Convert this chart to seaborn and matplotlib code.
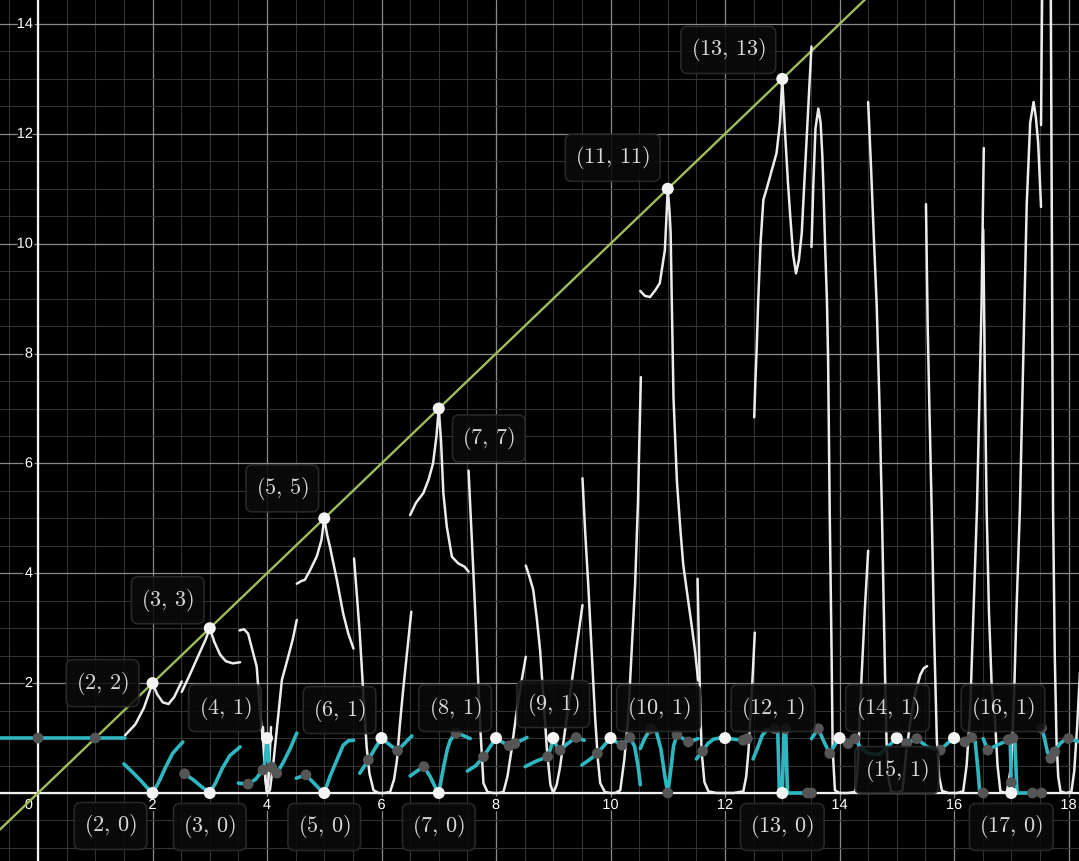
import matplotlib
matplotlib.use("Agg")
import matplotlib.pyplot as plt
import matplotlib.patheffects as pe
from matplotlib.ticker import MultipleLocator
import numpy as np
import pandas as pd
import seaborn as sns

# ---- data ----
diag = [-0.7, 18.3]  # the y = x line

white_pieces = [
    [(1.52, 1.05), (1.70, 1.25), (1.85, 1.55), (1.95, 1.85), (2.0, 2.0), (2.08, 1.80), (2.18, 1.65), (2.28, 1.62), (2.38, 1.75), (2.51, 2.03)],
    [(2.51, 1.84), (2.65, 2.15), (2.80, 2.50), (2.93, 2.80), (3.0, 3.0), (3.08, 2.75), (3.18, 2.52), (3.28, 2.40), (3.40, 2.36), (3.53, 2.38)],
    [(3.52, 2.96), (3.60, 2.98), (3.67, 2.90), (3.74, 2.62), (3.82, 2.30), (3.88, 1.45), (3.94, 0.84), (3.97, 0.25), (4.0, 0.0), (4.05, 0.05), (4.11, 0.54), (4.20, 1.45), (4.26, 2.06), (4.37, 2.48), (4.45, 2.80), (4.52, 3.15)],
    [(3.93, 1.2), (3.97, 0.3), (4.0, 0.0), (4.03, 0.3), (4.07, 1.2)],
    [(4.52, 3.81), (4.60, 3.86), (4.66, 3.88), (4.75, 4.05), (4.87, 4.31), (4.95, 4.6), (5.0, 5.0), (5.05, 4.7), (5.10, 4.48), (5.22, 3.88), (5.33, 3.27), (5.42, 2.9), (5.51, 2.63)],
    [(5.52, 4.27), (5.57, 3.6), (5.62, 2.9), (5.66, 2.2), (5.70, 1.5), (5.74, 0.84), (5.79, 0.35), (5.86, 0.05), (5.95, 0.0), (6.05, 0.0), (6.15, 0.02), (6.22, 0.25), (6.27, 0.6), (6.32, 1.24), (6.38, 1.9), (6.45, 2.6), (6.52, 3.30)],
    [(6.50, 5.06), (6.60, 5.28), (6.73, 5.46), (6.82, 5.7), (6.90, 6.0), (6.96, 6.5), (7.0, 7.0), (7.04, 6.4), (7.08, 5.46), (7.14, 4.85), (7.23, 4.30), (7.34, 4.18), (7.45, 4.12), (7.52, 4.03)],
    [(7.52, 5.87), (7.56, 5.0), (7.60, 4.12), (7.65, 3.0), (7.69, 2.0), (7.73, 1.1), (7.78, 0.18), (7.85, 0.02), (7.95, 0.0), (8.05, 0.0), (8.13, 0.02), (8.20, 0.3), (8.27, 0.78), (8.35, 1.4), (8.44, 2.0), (8.52, 2.48)],
    [(8.52, 4.14), (8.58, 3.95), (8.65, 3.70), (8.71, 3.2), (8.77, 2.60), (8.83, 1.7), (8.89, 0.78), (8.95, 0.15), (9.0, 0.0), (9.06, 0.15), (9.12, 0.48), (9.20, 1.1), (9.32, 2.0), (9.42, 2.75), (9.51, 3.42)],
    [(9.51, 5.73), (9.56, 4.7), (9.61, 3.81), (9.67, 2.6), (9.73, 1.39), (9.78, 0.6), (9.82, 0.18), (9.90, 0.02), (9.99, 0.0), (10.08, 0.0), (10.17, 0.05), (10.24, 0.6), (10.31, 1.39), (10.37, 2.6), (10.43, 3.81), (10.48, 5.3), (10.50, 6.24), (10.53, 7.57)],
    [(10.52, 9.14), (10.60, 9.05), (10.69, 9.03), (10.78, 9.15), (10.86, 9.28), (10.95, 9.89), (11.0, 11.0), (11.03, 10.6), (11.05, 10.2), (11.07, 8.97), (11.10, 7.2), (11.16, 5.67), (11.22, 4.8), (11.27, 4.16), (11.35, 3.55), (11.42, 3.03), (11.48, 2.55), (11.53, 2.05)],
    [(11.52, 3.90), (11.54, 2.9), (11.56, 1.90), (11.59, 0.77), (11.64, 0.2), (11.71, 0.03), (11.85, 0.0), (12.0, 0.0), (12.15, 0.0), (12.32, 0.03), (12.37, 0.3), (12.41, 0.77), (12.45, 1.5), (12.49, 2.28), (12.52, 2.92)],
    [(12.51, 6.84), (12.53, 7.5), (12.55, 8.0), (12.58, 8.97), (12.62, 10.0), (12.67, 10.80), (12.73, 11.01), (12.82, 11.35), (12.90, 11.65), (12.96, 12.2), (13.0, 13.0), (13.03, 12.4), (13.05, 12.0), (13.10, 11.1), (13.14, 10.49), (13.19, 9.8), (13.24, 9.46), (13.29, 9.7), (13.34, 10.19), (13.38, 11.0), (13.43, 12.0), (13.47, 12.8), (13.51, 13.59)],
    [(13.51, 9.94), (13.54, 11.0), (13.58, 12.1), (13.63, 12.46), (13.67, 12.2), (13.70, 11.6), (13.72, 11.0), (13.75, 9.9), (13.78, 8.97), (13.80, 7.94), (13.83, 5.0), (13.86, 2.66), (13.88, 0.8), (13.92, 0.05), (14.0, 0.0), (14.15, 0.0), (14.27, 0.02), (14.31, 0.35), (14.33, 0.78), (14.38, 2.0), (14.44, 3.3), (14.50, 4.41)],
    [(14.50, 12.58), (14.55, 11.4), (14.60, 10.1), (14.65, 8.86), (14.70, 7.0), (14.74, 5.15), (14.77, 3.5), (14.80, 1.89), (14.82, 0.97), (14.85, 0.3), (14.90, 0.03), (15.0, 0.0), (15.10, 0.05), (15.17, 0.78), (15.25, 1.4), (15.33, 1.85), (15.41, 2.15), (15.47, 2.27), (15.53, 2.31)],
    [(15.51, 10.72), (15.54, 8.5), (15.57, 7.0), (15.61, 5.15), (15.65, 3.0), (15.70, 0.96), (15.74, 0.3), (15.79, 0.04), (15.9, 0.0), (16.05, 0.0), (16.16, 0.03), (16.22, 0.5), (16.28, 1.44), (16.34, 3.3), (16.40, 5.15), (16.44, 7.0), (16.48, 8.86), (16.52, 11.74)],
    [(16.51, 10.26), (16.54, 7.5), (16.57, 5.15), (16.61, 3.3), (16.66, 1.89), (16.69, 1.62), (16.71, 1.44), (16.76, 0.5), (16.81, 0.03), (16.92, 0.0), (17.0, 0.5), (17.05, 1.8), (17.09, 3.29), (17.15, 5.15), (17.21, 7.94), (17.27, 10.72), (17.33, 12.2), (17.39, 12.58), (17.43, 12.3), (17.47, 11.83), (17.52, 10.67)],
    [(17.52, 12.16), (17.53, 13.5), (17.54, 14.6)],
    [(17.69, 14.6), (17.71, 10.0), (17.73, 5.15), (17.76, 2.5), (17.79, 0.96), (17.82, 0.3), (17.86, 0.03), (17.95, 0.0), (18.05, 0.02), (18.10, 0.4), (18.15, 1.2), (18.2, 2.2)],
]

cyan_pieces = [
    [(-0.7, 1.0), (1.52, 1.0)],
    [(1.50, 0.53), (1.65, 0.38), (1.80, 0.22), (1.92, 0.08), (2.0, 0.0), (2.10, 0.18), (2.22, 0.45), (2.35, 0.72), (2.53, 0.93)],
    [(2.56, 0.35), (2.70, 0.25), (2.85, 0.12), (3.0, 0.0), (3.10, 0.18), (3.22, 0.45), (3.35, 0.68), (3.53, 0.84)],
    [(3.50, 0.18), (3.67, 0.16), (3.80, 0.25), (3.93, 0.42), (3.97, 0.6), (4.0, 1.0), (4.03, 0.6), (4.08, 0.47), (4.17, 0.36), (4.28, 0.55), (4.40, 0.8), (4.52, 1.09)],
    [(4.51, 0.27), (4.68, 0.33), (4.80, 0.2), (4.92, 0.07), (5.0, 0.0), (5.10, 0.3), (5.22, 0.6), (5.33, 0.87), (5.42, 0.95), (5.51, 0.96)],
    [(5.62, 0.36), (5.77, 0.6), (5.88, 0.8), (6.0, 1.0), (6.14, 0.88), (6.28, 0.77), (6.40, 0.9), (6.53, 1.04)],
    [(6.50, 0.31), (6.62, 0.4), (6.74, 0.48), (6.85, 0.3), (6.95, 0.08), (7.0, 0.0), (7.08, 0.45), (7.15, 0.8), (7.20, 0.96), (7.30, 1.09), (7.42, 1.05), (7.55, 0.99)],
    [(7.50, 0.40), (7.65, 0.5), (7.78, 0.66), (7.90, 0.85), (8.0, 1.0), (8.12, 0.92), (8.23, 0.86), (8.33, 0.9), (8.54, 1.01)],
    [(8.51, 0.48), (8.70, 0.58), (8.90, 0.66), (8.95, 0.8), (9.0, 1.0), (9.06, 0.85), (9.12, 0.78), (9.25, 0.9), (9.40, 1.01), (9.54, 0.96)],
    [(9.50, 0.51), (9.65, 0.62), (9.77, 0.72), (9.90, 0.88), (10.0, 1.0), (10.10, 0.93), (10.20, 0.87), (10.34, 1.01), (10.42, 0.85), (10.48, 0.5), (10.52, 0.15)],
    [(10.52, 0.81), (10.60, 1.0), (10.70, 1.17), (10.80, 1.12), (10.88, 0.8), (10.95, 0.3), (11.0, 0.0), (11.05, 0.4), (11.10, 0.85), (11.16, 1.06), (11.25, 1.0), (11.36, 0.93), (11.45, 0.96), (11.53, 0.99)],
    [(11.50, 0.62), (11.61, 0.76), (11.70, 0.9), (11.80, 0.98), (11.90, 1.0), (12.0, 1.0), (12.15, 0.98), (12.32, 0.96), (12.39, 0.99), (12.44, 1.0)],
    [(12.49, 0.62), (12.58, 0.85), (12.65, 1.05), (12.73, 1.15), (12.87, 1.17), (12.92, 1.17), (12.95, 0.0), (13.0, 0.0), (13.03, 1.17), (13.06, 1.17), (13.09, 0.0), (13.30, 0.0), (13.51, 0.0)],
    [(13.51, 0.99), (13.63, 1.17), (13.72, 0.95), (13.83, 0.72), (13.92, 0.88), (14.0, 1.0), (14.08, 0.95), (14.15, 0.9), (14.27, 0.99), (14.36, 0.84), (14.5, 0.72), (14.7, 0.7), (14.85, 0.85), (15.0, 1.0), (15.17, 0.9), (15.35, 0.99), (15.53, 0.84), (15.65, 0.8), (15.76, 0.78), (15.88, 0.9), (16.0, 1.0), (16.10, 0.96), (16.19, 0.93), (16.31, 1.01)],
    [(16.31, 1.01), (16.37, 0.93), (16.42, 0.4), (16.45, 0.0), (16.51, 0.0)],
    [(16.51, 0.99), (16.59, 0.78), (16.75, 0.87), (16.92, 0.95), (16.98, 1.0), (17.0, 0.19)],
    [(17.03, 1.0), (17.06, 1.0), (17.10, 0.0), (17.53, 0.0)],
    [(17.53, 1.18), (17.58, 1.0), (17.63, 0.75), (17.69, 0.63), (17.76, 0.75), (17.85, 0.9), (17.95, 0.98), (18.0, 0.99), (18.1, 0.96), (18.2, 0.93)],
]

gray_x = [0, 1, 2.56, 3.67, 3.93, 4.08, 4.17, 4.68, 5.77, 6.28, 6.74, 7.30, 7.78, 8.23, 8.33, 8.90, 9.12, 9.40, 9.77,
          10.20, 10.34, 10.70, 11.0, 11.16, 11.36, 11.61, 12.32, 12.39, 12.87, 13.06, 13.44, 13.51, 13.63, 13.83,
          14.15, 14.27, 15.17, 15.35, 15.76, 16.19, 16.31, 16.51, 16.59, 16.95, 17.0, 17.03, 17.37, 17.53, 17.53,
          17.69, 17.76, 18.0]
gray_y = [1, 1, 0.35, 0.16, 0.42, 0.47, 0.36, 0.33, 0.6, 0.77, 0.48, 1.09, 0.66, 0.86, 0.9, 0.66, 0.78, 1.01, 0.72,
          0.87, 1.01, 1.17, 0.0, 1.06, 0.93, 0.76, 0.96, 0.99, 1.17, 1.17, 0.0, 0.0, 1.17, 0.72,
          0.9, 0.99, 0.9, 0.99, 0.78, 0.93, 1.01, 0.0, 0.78, 0.97, 0.19, 1.0, 0.0, 0.0, 1.18,
          0.63, 0.75, 0.99]

primes = [2, 3, 5, 7, 11, 13]
low_x = [2, 3, 4, 5, 6, 7, 8, 9, 10, 12, 13, 14, 15, 16, 17]
low_y = [0, 0, 1, 0, 1, 0, 1, 1, 1, 1, 0, 1, 1, 1, 0]

x_ticks = [2, 4, 6, 8, 10, 12, 14, 16, 18]
y_ticks = [2, 4, 6, 8, 10, 12, 14]

# label box offsets in pixels (style, not data)
prime_offsets = [(-50, 0), (-42, 28), (-42, 30), (50, -30), (-55, 31), (-54, 29)]
low_offsets = [(-42, -33), (0, -34), (-42, 30), (0, -34), (-42, 28), (0, -34), (-41, 30), (0, 34), (48, 30),
               (48, 30), (0, -34), (48, 30), (0, -32), (49, 30), (0, -34)]


def pieces_frame(pieces):
    rows = []
    for i, p in enumerate(pieces):
        for x, y in p:
            rows.append((i, x, y))
    return pd.DataFrame(rows, columns=['piece', 'x', 'y'])


sns.set_style('dark', {'axes.facecolor': 'black', 'figure.facecolor': 'black'})
plt.rcParams['mathtext.fontset'] = 'cm'
plt.rcParams['font.family'] = ['Liberation Sans', 'DejaVu Sans']

fig = plt.figure(figsize=(10.79, 8.61), dpi=100)
ax = fig.add_axes([0, 0, 1, 1])
ax.set_facecolor('black')
ax.set_xlim(-0.664, 18.183)
ax.set_ylim(-1.238, 14.437)

ax.xaxis.set_major_locator(MultipleLocator(2))
ax.yaxis.set_major_locator(MultipleLocator(2))
ax.xaxis.set_minor_locator(MultipleLocator(0.5))
ax.yaxis.set_minor_locator(MultipleLocator(0.5))
ax.grid(which='minor', color='#333333', lw=0.8, zorder=0)
ax.grid(which='major', color='#8a8a8a', lw=0.9, zorder=0)
ax.tick_params(which='both', length=0, labelbottom=False, labelleft=False)
for s in ax.spines.values():
    s.set_visible(False)
ax.set_axisbelow(True)

ax.axhline(0, color='#f2f2f2', lw=1.6, zorder=1)
ax.axvline(0, color='#f2f2f2', lw=1.6, zorder=1)

halo = [pe.withStroke(linewidth=3, foreground='black')]
for t in x_ticks:
    ax.annotate(str(t), (t, 0), xytext=(0, -5), textcoords='offset pixels', ha='center', va='top',
                color='white', fontsize=10.5, path_effects=halo, zorder=2)
for t in y_ticks:
    ax.annotate(str(t), (0, t), xytext=(-5, 0), textcoords='offset pixels', ha='right', va='center',
                color='white', fontsize=10.5, path_effects=halo, zorder=2)
ax.annotate('0', (0, 0), xytext=(-5, -5), textcoords='offset pixels', ha='right', va='top',
            color='white', fontsize=10.5, path_effects=halo, zorder=2)

sns.lineplot(x=diag, y=diag, color='#a0bd5c', lw=1.7, ax=ax, zorder=3)

df_w = pieces_frame(white_pieces)
sns.lineplot(data=df_w, x='x', y='y', units='piece', estimator=None, sort=False, color='#ececec', lw=1.8,
             ax=ax, zorder=4, legend=False, solid_joinstyle='round', solid_capstyle='round')

df_c = pieces_frame(cyan_pieces)
sns.lineplot(data=df_c, x='x', y='y', units='piece', estimator=None, sort=False, color='#2fb7c1', lw=2.6,
             ax=ax, zorder=5, legend=False, solid_joinstyle='round', solid_capstyle='round')

sns.scatterplot(x=gray_x, y=gray_y, color='#555555', s=60, edgecolor='none', ax=ax, zorder=6)
sns.scatterplot(x=primes, y=primes, color='#f4f4f4', s=75, edgecolor='none', ax=ax, zorder=7)
sns.scatterplot(x=low_x, y=low_y, color='#f4f4f4', s=75, edgecolor='none', ax=ax, zorder=7)

box = dict(boxstyle='round,pad=0.45,rounding_size=0.3', fc='#0b0b0b', ec='#2c2c2c', lw=1.2, alpha=0.88)
for p, off in zip(primes, prime_offsets):
    ax.annotate(r'$(%d,\,%d)$' % (p, p), (p, p), xytext=off, textcoords='offset pixels', ha='center',
                va='center', color='#d8d8d8', fontsize=16, bbox=box, zorder=8)
for x, y, off in zip(low_x, low_y, low_offsets):
    ax.annotate(r'$(%d,\,%d)$' % (x, y), (x, y), xytext=off, textcoords='offset pixels', ha='center',
                va='center', color='#d8d8d8', fontsize=16, bbox=box, zorder=8)

fig.savefig('out.png', dpi=100, facecolor='black')
